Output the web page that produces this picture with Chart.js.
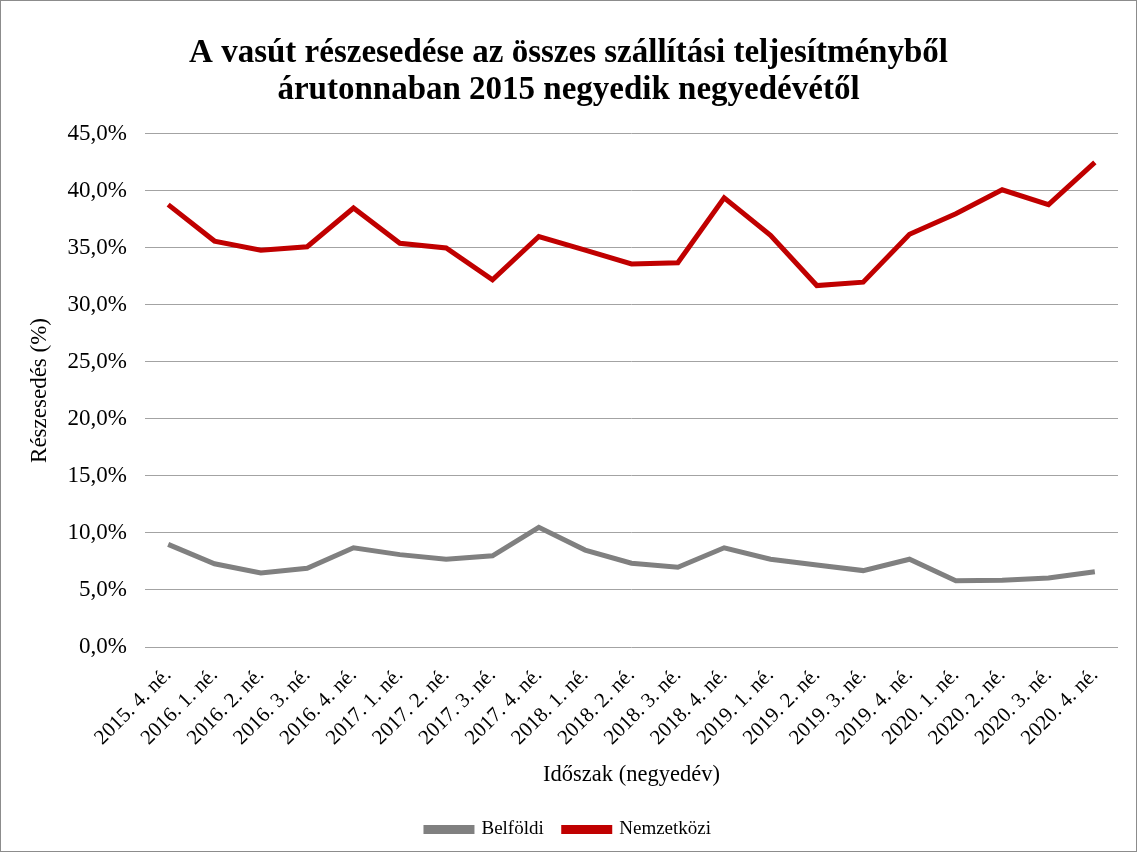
<!DOCTYPE html>
<html>
<head>
<meta charset="utf-8">
<script src="https://cdn.jsdelivr.net/npm/chart.js@4/dist/chart.umd.min.js"></script>
<style>
  html, body { margin: 0; padding: 0; background: #fff; }
  #wrap { width: 1137px; height: 852px; }
</style>
</head>
<body>
<div id="wrap"><canvas id="chart" width="1137" height="852"></canvas></div>
<script>
var categories = [
	'2015. 4. né.', '2016. 1. né.', '2016. 2. né.', '2016. 3. né.', '2016. 4. né.',
	'2017. 1. né.', '2017. 2. né.', '2017. 3. né.', '2017. 4. né.',
	'2018. 1. né.', '2018. 2. né.', '2018. 3. né.', '2018. 4. né.',
	'2019. 1. né.', '2019. 2. né.', '2019. 3. né.', '2019. 4. né.',
	'2020. 1. né.', '2020. 2. né.', '2020. 3. né.', '2020. 4. né.'
];
var belfoldi = [9.0, 7.3, 6.5, 6.9, 8.7, 8.1, 7.7, 8.0, 10.5, 8.5, 7.35, 7.0, 8.7, 7.7, 7.2, 6.7, 7.7, 5.8, 5.85, 6.05, 6.6];
var nemzetkozi = [38.8, 35.6, 34.8, 35.1, 38.5, 35.4, 35.0, 32.2, 36.0, 34.8, 33.6, 33.7, 39.4, 36.1, 31.7, 32.0, 36.2, 38.0, 40.1, 38.8, 42.5];
var yTicks = [0, 5, 10, 15, 20, 25, 30, 35, 40, 45];

var serif = '"Liberation Serif", "Times New Roman", serif';

var frame = {
	id: 'frame',
	afterDraw: function (chart) {
		var ctx = chart.ctx;
		ctx.save();
		ctx.strokeStyle = '#8c8c8c';
		ctx.lineWidth = 1;
		ctx.strokeRect(0.5, 0.5, chart.width - 1, chart.height - 1);
		ctx.restore();
	}
};

var ctx = document.getElementById('chart').getContext('2d');
var chart = new Chart(ctx, {
	type: 'line',
	data: {
		labels: categories,
		datasets: [
			{
				label: 'Belföldi',
				data: belfoldi,
				borderColor: '#808080',
				backgroundColor: '#808080',
				borderWidth: 5,
				pointRadius: 0,
				tension: 0
			},
			{
				label: 'Nemzetközi',
				data: nemzetkozi,
				borderColor: '#c00000',
				backgroundColor: '#c00000',
				borderWidth: 5,
				pointRadius: 0,
				tension: 0
			}
		]
	},
	options: {
		responsive: false,
		animation: false,
		layout: {
			padding: { left: 0, right: 0, top: 0, bottom: 3 }
		},
		plugins: {
			title: {
				display: true,
				text: ['A vasút részesedése az összes szállítási teljesítményből', 'árutonnaban 2015 negyedik negyedévétől'],
				color: '#000',
				font: { family: serif, size: 33, weight: 'bold', lineHeight: 1.15 },
				padding: { top: 34, bottom: 24 }
			},
			legend: {
				position: 'bottom',
				labels: {
					color: '#000',
					font: { family: serif, size: 19 },
					boxWidth: 46,
					boxHeight: 4,
					padding: 20
				}
			},
			tooltip: { enabled: false }
		},
		scales: {
			x: {
				offset: true,
				grid: { display: false },
				border: { display: false },
				ticks: {
					color: '#000',
					font: { family: serif, size: 21 },
					minRotation: 45,
					maxRotation: 45,
					autoSkip: false,
					padding: 8
				},
				title: {
					display: true,
					text: 'Időszak (negyedév)',
					color: '#000',
					font: { family: serif, size: 22.5 },
					padding: { top: 0, bottom: 11 }
				},
				afterFit: function (scale) {
					scale.height = 153;
				}
			},
			y: {
				min: 0,
				max: 45,
				afterBuildTicks: function (scale) {
					scale.ticks = yTicks.map(function (v) { return { value: v }; });
				},
				grid: {
					color: '#a3a3a3',
					lineWidth: 1,
					drawTicks: false
				},
				border: { display: false },
				ticks: {
					color: '#000',
					font: { family: serif, size: 23 },
					padding: 18,
					callback: function (v) {
						return v.toFixed(1).replace('.', ',') + '%';
					}
				},
				title: {
					display: true,
					text: 'Részesedés (%)',
					color: '#000',
					font: { family: serif, size: 23 },
					padding: { top: 26, bottom: 0 }
				},
				afterFit: function (scale) {
					scale.width = 145;
				}
			},
			// empty right-hand strip so the title and legend centre on the whole picture
			yRight: {
				position: 'right',
				grid: { display: false },
				border: { display: false },
				ticks: { display: false },
				afterFit: function (scale) {
					scale.width = 19;
				}
			}
		}
	},
	plugins: [frame]
});
</script>
</body>
</html>
